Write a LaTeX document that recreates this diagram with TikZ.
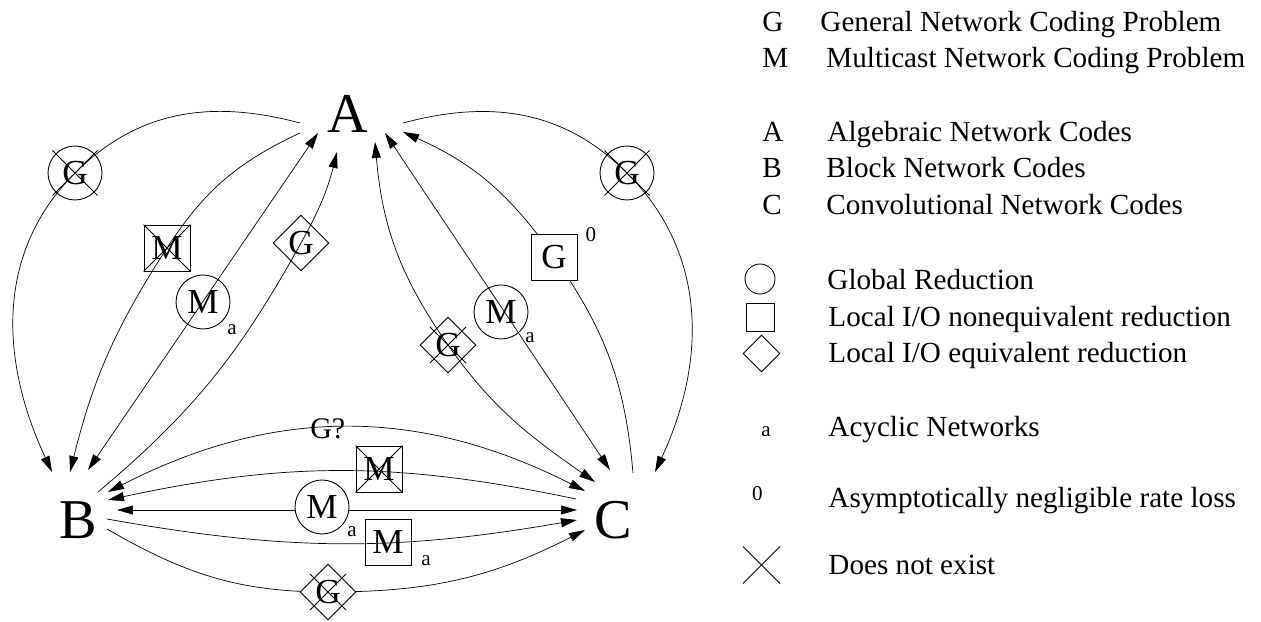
\documentclass[tikz,border=0pt]{standalone}
\usepackage{fontspec}
\setmainfont{Liberation Serif}
\usetikzlibrary{shapes.geometric, arrows.meta, backgrounds}

\begin{document}
\begin{tikzpicture}[
    x=0.02cm, y=0.02cm,
    line width=0.5pt,
    bigletter/.style={font=\fontsize{32}{32}\selectfont, inner sep=0pt},
    keytext/.style={font=\fontsize{16.6}{17}\selectfont, anchor=base west, inner sep=0pt},
    subscr/.style={font=\fontsize{12}{12}\selectfont, inner sep=0pt},
    glob/.style={
        circle,
        draw=black,
        minimum size=1.08cm,
        inner sep=0pt,
        font=\fontsize{20}{20}\selectfont
    },
    local/.style={
        rectangle,
        draw=black,
        minimum size=0.92cm,
        inner sep=0pt,
        font=\fontsize{20}{20}\selectfont
    },
    localeq/.style={
        diamond,
        draw=black,
        minimum size=1.12cm,
        inner sep=0pt,
        font=\fontsize{20}{20}\selectfont
    },
    crossed/.style={append after command={
        (\tikzlastnode.north west) edge[draw] (\tikzlastnode.south east)
        (\tikzlastnode.north east) edge[draw] (\tikzlastnode.south west)}},
    xmark/.style={append after command={
        ([shift={(-#1,-#1)}]\tikzlastnode.center) edge[draw] ([shift={(#1,#1)}]\tikzlastnode.center)
        ([shift={(-#1,#1)}]\tikzlastnode.center) edge[draw] ([shift={(#1,-#1)}]\tikzlastnode.center)}},
    arrow/.style={-{Triangle[length=3.2mm,width=1.8mm]}},
    twoway/.style={{Triangle[length=3.2mm,width=1.8mm]}-{Triangle[length=3.2mm,width=1.8mm]}}
]
\useasboundingbox (0,0) rectangle (1261,622);

% --- code classes ---
\node (A) [bigletter] at (348,508) {A};
\node (B) [bigletter] at (78,102) {B};
\node (C) [bigletter] at (613,102) {C};

% --- line ends round the letters ---
\coordinate (aOutL) at (300,499);
\coordinate (aSqM) at (300,489);
\coordinate (aCirL) at (318,489);
\coordinate (aDiaL) at (337,470);
\coordinate (aDiaR) at (375,480);
\coordinate (aCirR) at (385,489);
\coordinate (aSqG) at (403,490);
\coordinate (aOutR) at (403,499);
\coordinate (bOutL) at (52,150);
\coordinate (bSqM) at (70,150);
\coordinate (bCirL) at (88,152);
\coordinate (bDiaL) at (98,130);
\coordinate (bGq) at (108,130);
\coordinate (bXsq) at (108,122);
\coordinate (bMid) at (117,112);
\coordinate (bSqMa) at (107,103);
\coordinate (bDiaB) at (107,93);
\coordinate (cDiaR) at (595,140);
\coordinate (cGq) at (585,131);
\coordinate (cXsq) at (576,123);
\coordinate (cMid) at (577,112);
\coordinate (cSqMa) at (577,102);
\coordinate (cDiaB) at (585,92);
\coordinate (cCirR) at (610,152);
\coordinate (cSqG) at (633,149);
\coordinate (cOutR) at (655,150);

% --- reductions A-B ---
\node (xcGL) [glob, xmark=22.5] at (75,449) {G};
\node (xsMA) [local, crossed] at (167,374) {M};
\node (cML) [glob] at (203,320) {M};
\node (cMLa) [subscr] at (232,292) {a};
\node (dGL) [localeq] at (301,379) {G};

% --- reductions A-C ---
\node (xcGR) [glob, xmark=22.5] at (627,449) {G};
\node (sqG) [local, fill=white] at (554,365) {G};
\node (sqG0) [subscr] at (591,387) {0};
\node (cMR) [glob] at (501,310) {M};
\node (cMRa) [subscr] at (530,284) {a};
\node (xdGR) [localeq, xmark=18] at (448,277) {G};

% --- reductions B-C ---
\node (xsMB) [local, crossed] at (379,153) {M};
\node (cMB) [glob, fill=white] at (322,115) {M};
\node (cMBa) [subscr] at (352,90) {a};
\node (sqMa) [local] at (388,80) {M};
\node (sqMaa) [subscr] at (426,61) {a};
\node (xdGB) [localeq, fill=white, xmark=18] at (328,30) {G};

% --- arrows ---
\begin{scope}[on background layer]
\draw [arrow] (aOutL) to[out=165,in=45] (xcGL.center) to[out=225,in=115] (bOutL);
\draw [arrow] (aSqM) to[out=205,in=57] (xsMA.center) to[out=237,in=76] (bSqM);
\draw [twoway] (aCirL) -- (bCirL);
\draw [arrow] (bDiaL) to[out=40,in=241] (dGL.center) to[out=61,in=256] (aDiaL);
\draw [arrow] (aOutR) to[out=15,in=135] (xcGR.center) to[out=315,in=65] (cOutR);
\draw [arrow] (cSqG) to[out=95,in=305] (sqG.center) to[out=125,in=336] (aSqG);
\draw [twoway] (aCirR) -- (cCirR);
\draw [twoway] (aDiaR) to[out=275,in=125] (xdGR.center) to[out=305,in=145] (cDiaR);
\draw [twoway] (bGq) to[bend left=27] node[pos=0.46, inner sep=0pt, font=\fontsize{17}{17}\selectfont] (Gq) {G?} (cGq);
\draw [arrow] (cXsq) to[bend right=12] (bXsq);
\draw [twoway] (bMid) -- (cMid);
\draw [arrow] (bSqMa) to[bend right=10] (cSqMa);
\draw [arrow] (bDiaB) to[out=-30,in=180] (xdGB.center) to[out=0,in=207] (cDiaB);
\end{scope}

% --- legend ---
\node (kG) [keytext] at (762,590) {G};
\node (tG) [keytext] at (820,590) {General Network Coding Problem};
\node (kM) [keytext] at (762,554) {M};
\node (tM) [keytext] at (826,554) {Multicast Network Coding Problem};
\node (kA) [keytext] at (762,480) {A};
\node (tA) [keytext] at (827,480) {Algebraic Network Codes};
\node (kB) [keytext] at (762,444) {B};
\node (tB) [keytext] at (826,444) {Block Network Codes};
\node (kC) [keytext] at (762,407) {C};
\node (tC) [keytext] at (826,407) {Convolutional Network Codes};
\node (kCirc) [circle, draw=black, minimum size=0.6cm, inner sep=0pt] at (760,343) {};
\node (tCirc) [keytext] at (827,332) {Global Reduction};
\node (kSq) [rectangle, draw=black, minimum size=0.56cm, inner sep=0pt] at (760,305) {};
\node (tSq) [keytext] at (828,295) {Local I/O nonequivalent reduction};
\node (kDia) [diamond, draw=black, minimum size=0.74cm, inner sep=0pt] at (761.5,268.5) {};
\node (tDia) [keytext] at (828,259) {Local I/O equivalent reduction};
\node (ka) [subscr] at (766,190) {a};
\node (ta) [keytext] at (828,185) {Acyclic Networks};
\node (k0) [subscr] at (757.5,128.5) {0};
\node (t0) [keytext] at (828,114) {Asymptotically negligible rate loss};
\node (kX) [inner sep=0pt, xmark=18.5] at (761.5,57) {};
\node (tX) [keytext] at (828,47) {Does not exist};

\end{tikzpicture}
\end{document}
